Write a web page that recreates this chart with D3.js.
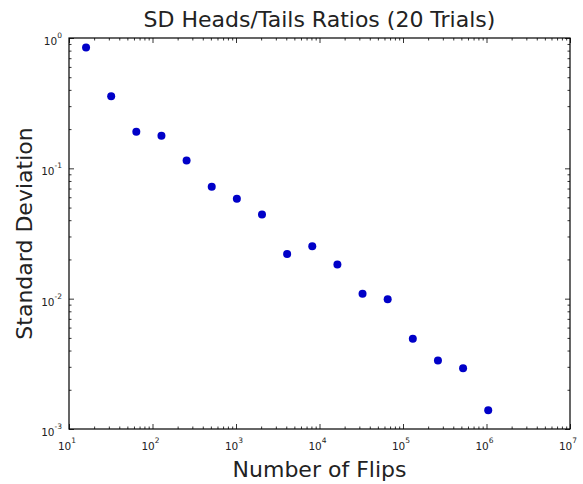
<!DOCTYPE html>
<html>
<head>
<meta charset="utf-8">
<script src="https://cdn.jsdelivr.net/npm/d3@7"></script>
<style>
  body { margin: 0; background: #fff; }
  svg text { font-family: "DejaVu Sans", sans-serif; fill: #222; }
</style>
</head>
<body>
<div id="chart"></div>
<script>
const flips = [16, 32, 64, 128, 256, 512, 1024, 2048, 4096, 8192, 16384,
               32768, 65536, 131072, 262144, 524288, 1048576];
const sds = [0.845, 0.357, 0.191, 0.178, 0.115, 0.0722, 0.0584, 0.0443, 0.0220,
             0.0253, 0.0183, 0.0109, 0.00988, 0.00492, 0.00336, 0.00292, 0.00139];
const xExps = [1, 2, 3, 4, 5, 6, 7];
const yExps = [-3, -2, -1, 0];

const W = 583, H = 484;
const margin = { top: 38, right: 13, bottom: 55, left: 69 };
const width = W - margin.left - margin.right;
const height = H - margin.top - margin.bottom;

const svg = d3.select("#chart").append("svg")
    .attr("width", W)
    .attr("height", H);

const g = svg.append("g")
    .attr("transform", `translate(${margin.left},${margin.top})`);

const x = d3.scaleLog().domain([1e1, 1e7]).range([0, width]);
const y = d3.scaleLog().domain([1e-3, 1e0]).range([height, 0]);

// minor tick values, 2..9 in each decade
function minors(exps) {
    const out = [];
    for (let i = 0; i < exps.length - 1; i++) {
        for (let m = 2; m <= 9; m++) out.push(m * Math.pow(10, exps[i]));
    }
    return out;
}
const xMajor = xExps.map(e => Math.pow(10, e));
const yMajor = yExps.map(e => Math.pow(10, e));

function tickAxis(axisFn, scale, values, size) {
    return axisFn(scale).tickValues(values).tickSizeInner(-size).tickSizeOuter(0).tickFormat("");
}

const axes = [
    [d3.axisBottom, x, `translate(0,${height})`],
    [d3.axisTop, x, "translate(0,0)"],
    [d3.axisLeft, y, "translate(0,0)"],
    [d3.axisRight, y, `translate(${width},0)`]
];
axes.forEach(([fn, sc, tr]) => {
    const vals = sc === x ? xMajor : yMajor;
    const mins = sc === x ? minors(xExps) : minors(yExps);
    g.append("g").attr("transform", tr).call(tickAxis(fn, sc, vals, 5));
    g.append("g").attr("transform", tr).call(tickAxis(fn, sc, mins, 2.5));
});
g.selectAll(".domain").remove();
g.selectAll(".tick line").attr("stroke", "#000").attr("stroke-width", 0.8);

g.append("rect")
    .attr("width", width)
    .attr("height", height)
    .attr("fill", "none")
    .attr("stroke", "#000")
    .attr("stroke-width", 1.2);

// tick labels: 10 with superscript exponent
xExps.forEach(e => {
    const t = g.append("text")
        .attr("x", x(Math.pow(10, e)) - 2)
        .attr("y", height + 21)
        .attr("text-anchor", "middle")
        .attr("font-size", 10.5);
    t.append("tspan").text("10");
    t.append("tspan").attr("dy", -7).attr("font-size", 7.5).text(e);
});
yExps.forEach(e => {
    const t = g.append("text")
        .attr("x", -7)
        .attr("y", y(Math.pow(10, e)) + 7)
        .attr("text-anchor", "end")
        .attr("font-size", 10.5);
    t.append("tspan").text("10");
    t.append("tspan").attr("dy", -7).attr("font-size", 7.5).text(e);
});

g.selectAll("circle.pt")
    .data(flips)
    .enter()
    .append("circle")
    .attr("class", "pt")
    .attr("cx", d => x(d))
    .attr("cy", (d, i) => y(sds[i]))
    .attr("r", 4)
    .attr("fill", "#0000c8");

svg.append("text")
    .attr("x", margin.left + width / 2)
    .attr("y", 27)
    .attr("text-anchor", "middle")
    .attr("font-size", 22)
    .text("SD Heads/Tails Ratios (20 Trials)");

svg.append("text")
    .attr("x", margin.left + width / 2)
    .attr("y", 477)
    .attr("text-anchor", "middle")
    .attr("font-size", 22)
    .text("Number of Flips");

svg.append("text")
    .attr("transform", `translate(32,${margin.top + height / 2}) rotate(-90)`)
    .attr("text-anchor", "middle")
    .attr("font-size", 22)
    .text("Standard Deviation");
</script>
</body>
</html>
